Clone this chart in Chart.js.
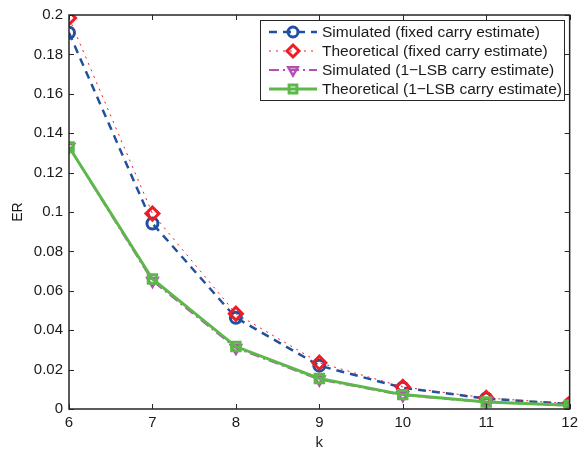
<!DOCTYPE html>
<html>
<head>
<meta charset="utf-8">
<script src="https://cdn.jsdelivr.net/npm/chart.js@4/dist/chart.umd.min.js"></script>
<style>
  html, body { margin: 0; padding: 0; background: #fff; }
  #wrap { width: 583px; height: 452px; }
</style>
</head>
<body>
<div id="wrap"><canvas id="erChart" width="583" height="452"></canvas></div>
<script>
// values
const kValues = [6, 7, 8, 9, 10, 11, 12];
const simFixed = [0.191, 0.0942, 0.0463, 0.022, 0.0108, 0.0053, 0.0025];
const theoFixed = [0.1985, 0.0992, 0.0484, 0.0235, 0.0112, 0.0056, 0.0027];
const simLsb = [0.133, 0.065, 0.031, 0.015, 0.007, 0.0035, 0.0017];
const theoLsb = [0.133, 0.066, 0.0317, 0.0155, 0.0073, 0.0036, 0.0019];
const xTicks = [6, 7, 8, 9, 10, 11, 12];
const yTicks = [0, 0.02, 0.04, 0.06, 0.08, 0.1, 0.12, 0.14, 0.16, 0.18, 0.2];
const seriesNames = [
  "Simulated (fixed carry estimate)",
  "Theoretical (fixed carry estimate)",
  "Simulated (1\u2212LSB carry estimate)",
  "Theoretical (1\u2212LSB carry estimate)",
];

const BLUE = "#2150a0";
const RED = "#ee1c25";
const MAGENTA = "#b44fb4";
const GREEN = "#5db84a";
const FONT = "'Liberation Sans', Arial, sans-serif";

const pts = (ys) => kValues.map((k, i) => ({ x: k, y: ys[i] }));

// MATLAB style box, inward ticks and legend
const matlabAxes = {
  id: "matlabAxes",
  afterDatasetsDraw(chart) {
    const { ctx, chartArea: a, scales } = chart;
    ctx.save();
    ctx.strokeStyle = "#262626";
    ctx.lineWidth = 1;
    ctx.beginPath();
    xTicks.forEach((t) => {
      const x = Math.round(scales.x.getPixelForValue(t)) + 0.5;
      ctx.moveTo(x, a.bottom); ctx.lineTo(x, a.bottom - 5);
      ctx.moveTo(x, a.top); ctx.lineTo(x, a.top + 5);
    });
    yTicks.forEach((t) => {
      const y = Math.round(scales.y.getPixelForValue(t)) + 0.5;
      ctx.moveTo(a.left, y); ctx.lineTo(a.left + 5, y);
      ctx.moveTo(a.right, y); ctx.lineTo(a.right - 5, y);
    });
    ctx.stroke();
    ctx.lineWidth = 1.5;
    ctx.strokeRect(a.left, a.top, a.right - a.left, a.bottom - a.top);

    // legend
    const lx = 260, ly = 20, lw = 304, lh = 80;
    ctx.fillStyle = "#fff";
    ctx.fillRect(lx, ly, lw, lh);
    ctx.lineWidth = 1;
    ctx.strokeStyle = "#262626";
    ctx.strokeRect(lx + 0.5, ly + 0.5, lw, lh);
    ctx.font = "15.5px " + FONT;
    ctx.textBaseline = "middle";
    chart.data.datasets.forEach((ds, i) => {
      const y = ly + 12 + i * 19;
      ctx.save();
      ctx.strokeStyle = ds.borderColor;
      ctx.lineWidth = ds.borderWidth;
      ctx.setLineDash(ds.borderDash || []);
      ctx.beginPath();
      ctx.moveTo(lx + 9, y); ctx.lineTo(lx + 57, y);
      ctx.stroke();
      ctx.restore();
      ctx.save();
      ctx.lineWidth = ds.pointBorderWidth;
      ctx.strokeStyle = ds.pointBorderColor;
      ctx.fillStyle = "rgba(0,0,0,0)";
      Chart.helpers.drawPoint(ctx, {
        pointStyle: ds.pointStyle,
        radius: ds.pointRadius - 0.5,
        rotation: ds.pointRotation || 0,
        borderWidth: ds.pointBorderWidth,
      }, lx + 33, y);
      ctx.restore();
      ctx.fillStyle = "#1a1a1a";
      ctx.fillText(ds.label, lx + 62, y + 1);
    });
    ctx.restore();
  },
};

const ds = (label, data, color, opts) => Object.assign({
  label, data,
  borderColor: color,
  pointBorderColor: color,
  backgroundColor: "rgba(0,0,0,0)",
  pointBackgroundColor: "rgba(0,0,0,0)",
  tension: 0,
  fill: false,
}, opts);

new Chart(document.getElementById("erChart"), {
  type: "line",
  data: {
    datasets: [
      ds(seriesNames[0], pts(simFixed), BLUE, { borderWidth: 2.5, borderDash: [8, 6], pointStyle: "circle", pointRadius: 5.5, pointBorderWidth: 3, order: 4 }),
      ds(seriesNames[1], pts(theoFixed), RED, { borderWidth: 1, borderDash: [2, 5], pointStyle: "rectRot", pointRadius: 6.5, pointBorderWidth: 3, order: 3 }),
      ds(seriesNames[2], pts(simLsb), MAGENTA, { borderWidth: 2, borderDash: [10, 4, 2, 4], pointStyle: "triangle", pointRotation: 180, pointRadius: 6, pointBorderWidth: 2.5, order: 2 }),
      ds(seriesNames[3], pts(theoLsb), GREEN, { borderWidth: 3, pointStyle: "rect", pointRadius: 6, pointBorderWidth: 3, order: 1 }),
    ],
  },
  options: {
    responsive: false,
    animation: false,
    layout: { padding: { top: 12, right: 11, left: 0, bottom: 0 } },
    plugins: { legend: { display: false }, tooltip: { enabled: false } },
    scales: {
      x: {
        type: "linear", min: 6, max: 12,
        afterBuildTicks: (s) => { s.ticks = xTicks.map((v) => ({ value: v })); },
        afterFit: (s) => { s.height = 43; },
        grid: { display: false, drawTicks: false },
        border: { display: false },
        ticks: { color: "#1a1a1a", font: { family: FONT, size: 15 }, padding: 5, maxRotation: 0 },
        title: { display: true, text: "k", color: "#1a1a1a", font: { family: FONT, size: 15 }, padding: { top: 0, bottom: 0 } },
      },
      y: {
        type: "linear", min: 0, max: 0.2,
        afterBuildTicks: (s) => { s.ticks = yTicks.map((v) => ({ value: v })); },
        afterFit: (s) => { s.width = 69; },
        grid: { display: false, drawTicks: false },
        border: { display: false },
        ticks: { color: "#1a1a1a", font: { family: FONT, size: 15 }, padding: 6, callback: (v) => String(+v.toFixed(2)) },
        title: { display: true, text: "ER", color: "#1a1a1a", font: { family: FONT, size: 14 }, padding: { top: 10, bottom: 0 } },
      },
    },
  },
  plugins: [matlabAxes],
});
</script>
</body>
</html>
